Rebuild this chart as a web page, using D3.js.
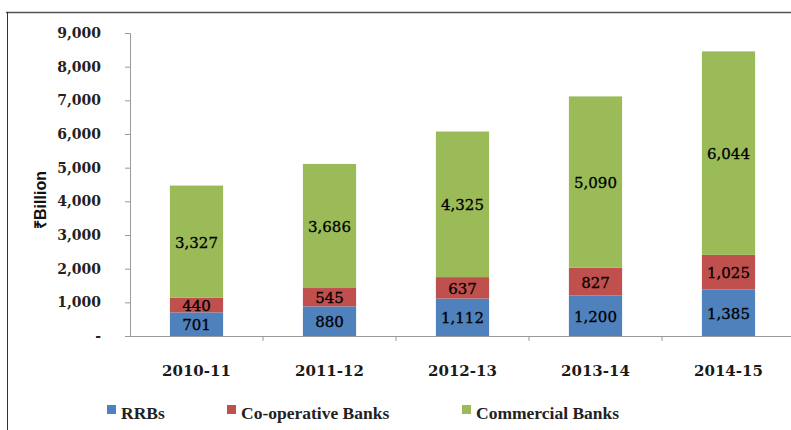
<!DOCTYPE html>
<html>
<head>
<meta charset="utf-8">
<script src="https://cdn.jsdelivr.net/npm/d3@7"></script>
<style>
  body { margin: 0; background: #fff; }
  svg { display: block; }
</style>
</head>
<body>
<svg id="chart"></svg>
<script>
var years = ['2010-11', '2011-12', '2012-13', '2013-14', '2014-15'];
var seriesNames = ['RRBs', 'Co-operative Banks', 'Commercial Banks'];
var rrbs = [701, 880, 1112, 1200, 1385];
var coop = [440, 545, 637, 827, 1025];
var commercial = [3327, 3686, 4325, 5090, 6044];
var yTicks = [0, 1000, 2000, 3000, 4000, 5000, 6000, 7000, 8000, 9000];
var colors = ['#4F81BD', '#C0504D', '#9BBB59'];

var width = 791;
var height = 430;

var svg = d3.select('#chart')
    .attr('width', width)
    .attr('height', height);

// frame
svg.append('line')
    .attr('x1', 6).attr('x2', width)
    .attr('y1', 12.5).attr('y2', 12.5)
    .attr('stroke', '#555').attr('stroke-width', 1.5);
svg.append('line')
    .attr('x1', 7.5).attr('x2', 7.5)
    .attr('y1', 12).attr('y2', height)
    .attr('stroke', '#333').attr('stroke-width', 1);

var rows = years.map(function (y, i) {
    return { year: y, RRBs: rrbs[i], 'Co-operative Banks': coop[i], 'Commercial Banks': commercial[i] };
});

var stacked = d3.stack().keys(seriesNames)(rows);

var x = d3.scaleBand()
    .domain(years)
    .range([130, 795])
    .paddingInner(0.6)
    .paddingOuter(0.3);

var y = d3.scaleLinear()
    .domain([0, 9000])
    .range([336, 33]);

// y axis
var yAxis = svg.append('g')
    .attr('transform', 'translate(130,0)')
    .call(d3.axisLeft(y)
        .tickValues(yTicks)
        .tickSize(5)
        .tickPadding(24)
        .tickFormat(function (d) { return d === 0 ? '-' : d3.format(',')(d); }));
yAxis.select('.domain').attr('stroke', '#999');
yAxis.selectAll('.tick line').attr('stroke', '#999');
yAxis.selectAll('text')
    .style('font-family', 'DejaVu Serif, serif')
    .style('font-weight', 'bold')
    .style('font-size', '14px')
    .attr('fill', '#222');

// x axis, ticks sit between categories
var xAxis = svg.append('g')
    .attr('transform', 'translate(0,336)');
xAxis.append('line')
    .attr('x1', 125).attr('x2', 795)
    .attr('y1', 0.5).attr('y2', 0.5)
    .attr('stroke', '#999');
xAxis.selectAll('line.tick')
    .data(years.slice(1))
    .enter()
    .append('line')
    .attr('class', 'tick')
    .attr('x1', function (d) { return x(d) - (x.step() - x.bandwidth()) / 2; })
    .attr('x2', function (d) { return x(d) - (x.step() - x.bandwidth()) / 2; })
    .attr('y1', 0)
    .attr('y2', 5)
    .attr('stroke', '#999');
xAxis.selectAll('text')
    .data(years)
    .enter()
    .append('text')
    .attr('x', function (d) { return x(d) + x.bandwidth() / 2; })
    .attr('y', 40)
    .attr('text-anchor', 'middle')
    .style('font-family', 'DejaVu Serif, serif')
    .style('font-weight', 'bold')
    .style('font-size', '15px')
    .attr('fill', '#1a1a1a')
    .text(function (d) { return d; });

// y axis title
svg.append('text')
    .attr('transform', 'translate(46,200) rotate(-90)')
    .attr('text-anchor', 'middle')
    .style('font-family', 'Liberation Sans, Arial, sans-serif')
    .style('font-weight', 'bold')
    .style('font-size', '16px')
    .attr('fill', '#111')
    .text('₹Billion');

// bars
var layers = svg.append('g')
    .selectAll('g')
    .data(stacked)
    .enter()
    .append('g')
    .attr('fill', function (d, i) { return colors[i]; });

layers.selectAll('rect')
    .data(function (d) { return d; })
    .enter()
    .append('rect')
    .attr('x', function (d) { return x(d.data.year); })
    .attr('y', function (d) { return y(d[1]); })
    .attr('width', x.bandwidth())
    .attr('height', function (d) { return y(d[0]) - y(d[1]); });

// value labels
layers.selectAll('text')
    .data(function (d) { return d; })
    .enter()
    .append('text')
    .attr('x', function (d) { return x(d.data.year) + x.bandwidth() / 2; })
    .attr('y', function (d) { return (y(d[0]) + y(d[1])) / 2; })
    .attr('dy', '0.4em')
    .attr('text-anchor', 'middle')
    .style('font-family', 'DejaVu Serif, serif')
    .style('font-size', '15px')
    .attr('fill', '#000')
    .attr('stroke', '#000')
    .attr('stroke-width', 0.3)
    .text(function (d) { return d3.format(',')(d[1] - d[0]); });

// legend
var legendX = [107, 227, 462];
var legend = svg.append('g')
    .selectAll('g')
    .data(seriesNames)
    .enter()
    .append('g')
    .attr('transform', function (d, i) { return 'translate(' + legendX[i] + ',405)'; });

legend.append('rect')
    .attr('width', 9)
    .attr('height', 9)
    .attr('fill', function (d, i) { return colors[i]; });

legend.append('text')
    .attr('x', 14)
    .attr('y', 14)
    .style('font-family', 'Liberation Serif, serif')
    .style('font-weight', 'bold')
    .style('font-size', '17.5px')
    .attr('fill', '#222')
    .text(function (d) { return d; });
</script>
</body>
</html>
